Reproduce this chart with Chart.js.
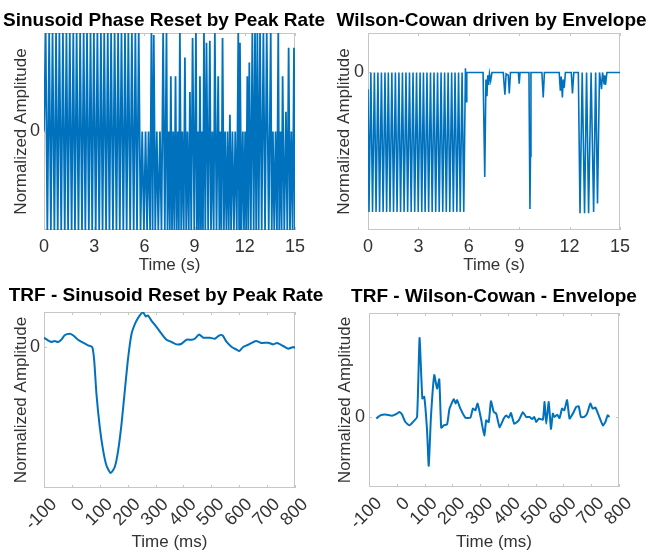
<!DOCTYPE html>
<html lang="en">
  <head>
    <meta charset="UTF-8" />
    <title>Phase Reset vs Wilson-Cowan</title>
    <script src="https://cdn.jsdelivr.net/npm/chart.js@4.4.0/dist/chart.umd.min.js"></script>
    <style>
      body {
        margin: 0;
        width: 656px;
        height: 553px;
        position: relative;
        overflow: hidden;
        background: #ffffff;
      }
      canvas {
        position: absolute;
      }
    </style>
  </head>
  <body>
    <canvas id="sinChart" width="328" height="280" style="left: 0; top: 0"></canvas>
    <canvas id="wcChart" width="323" height="280" style="left: 330px; top: 0"></canvas>
    <canvas id="trfSinChart" width="332" height="273" style="left: 0; top: 280px"></canvas>
    <canvas id="trfWcChart" width="328" height="273" style="left: 330px; top: 280px"></canvas>

    <script>
      // top left: sinusoid reset by peak rate (peaks / troughs, seconds)
      const sinT = [
        0, 0.1, 0.2, 0.31, 0.41, 0.51, 0.62, 0.72, 0.82, 0.92, 1.03, 1.13, 1.24, 1.34, 1.44,
        1.54, 1.65, 1.75, 1.85, 1.95, 2.06, 2.16, 2.27, 2.37, 2.47, 2.57, 2.68, 2.78, 2.88,
        2.98, 3.09, 3.19, 3.3, 3.4, 3.5, 3.6, 3.71, 3.81, 3.91, 4.01, 4.12, 4.22, 4.33, 4.43,
        4.53, 4.63, 4.74, 4.84, 4.94, 5.04, 5.15, 5.25, 5.36, 5.46, 5.56, 5.66, 5.77,
        5.87, 5.97, 6.07, 6.16, 6.25, 6.34, 6.42, 6.49, 6.56, 6.65, 6.74, 6.83, 6.93, 7.02,
        7.12, 7.22, 7.32, 7.38, 7.45, 7.52, 7.58, 7.65, 7.72, 7.79, 7.86, 7.93, 8.0, 8.06,
        8.12, 8.2, 8.27, 8.35, 8.42, 8.5, 8.57, 8.65, 8.72, 8.8, 8.88, 8.98, 9.08, 9.14, 9.2,
        9.26, 9.32, 9.38, 9.45, 9.5, 9.56, 9.64, 9.71, 9.81, 9.91, 9.98, 10.06, 10.14, 10.21,
        10.31, 10.41, 10.48, 10.54, 10.6, 10.67, 10.75, 10.82, 10.9, 10.97, 11.04, 11.11,
        11.18, 11.26, 11.35, 11.43, 11.52, 11.61, 11.66, 11.71, 11.8, 11.88, 11.95, 12.02,
        12.08, 12.15, 12.21, 12.27, 12.36, 12.45, 12.53, 12.61, 12.68, 12.75, 12.83, 12.91,
        13.01, 13.11, 13.21, 13.31, 13.43, 13.55, 13.61, 13.68, 13.76, 13.84, 13.92, 14.0,
        14.06, 14.13, 14.2, 14.26, 14.36, 14.46, 14.54, 14.62, 14.7, 14.78, 14.86, 14.94, 15.0,
      ];
      const sinV = [
        0, 1, -1, 1, -1, 1, -1, 1, -1, 1, -1, 1, -1, 1, -1,
        1, -1, 1, -1, 1, -1, 1, -1, 1, -1, 1, -1, 1, -1,
        1, -1, 1, -1, 1, -1, 1, -1, 1, -1, 1, -1, 1, -1, 1,
        -1, 1, -1, 1, -1, 1, -1, 1, -1, 1, -1, 1, -1,
        0, -1, 0, -1, 0, -1, 1, -1, 0.98, -1, 0, -1, 0, -1,
        1, -1, 1, -1, 0, -1, 0.56, -1, 0, -1, 0.56, -1, 0, -1,
        1, -1, 0, -1, 0.75, -1, 0, -1, 0.4, -1, 0.95, -1, 1, -1, 0,
        -1, 0.56, -1, 0, -1, 1, -1, 0.9, -1, 0.92, -1, 0, -1, 1,
        -1, 0.56, -1, 0, -1, 0.95, -1, 0, -1, 0, -1, 0.17,
        -1, 0, -1, 0, -1, 1, -1, 0.9, -1, 0, -1, 0,
        -1, 0.56, -1, 0.7, -1, 1, -1, 1, -1, 1, -1, 1,
        -1, 1, -1, 1, -1, 1, -1, 0, -1, 0, -1, 1,
        -1, 0, -1, 0.56, -1, 0.2, -1, 0.85, -1, 0, -1, 0.85, -1,
      ];

      // top right: Wilson-Cowan driven by envelope (seconds)
      const wcT = [
        0, 0.06, 0.17, 0.27, 0.38, 0.48, 0.59, 0.69, 0.8, 0.9, 1.01, 1.11, 1.21, 1.31, 1.42,
        1.52, 1.63, 1.73, 1.84, 1.94, 2.05, 2.15, 2.26, 2.36, 2.47, 2.57, 2.68, 2.78, 2.89,
        2.99, 3.1, 3.2, 3.3, 3.4, 3.51, 3.61, 3.72, 3.82, 3.93, 4.03, 4.14, 4.24, 4.35, 4.45,
        4.56, 4.66, 4.77, 4.87, 4.98, 5.08, 5.18, 5.29, 5.39, 5.49, 5.6, 5.7, 5.8, 5.84, 5.88,
        6.85, 6.95, 7.02, 7.08, 7.13, 7.18, 7.23, 7.3, 7.38, 8.05, 8.15, 8.22, 8.35, 8.41,
        8.48, 8.95, 9.0, 9.05, 9.58, 9.64, 9.67, 9.7, 10.35, 10.43, 10.5, 11.38, 11.45, 11.5,
        11.57, 11.62, 11.68, 11.75, 12.1, 12.17, 12.25, 12.52, 12.62, 12.75, 12.89, 13.01,
        13.13, 13.28, 13.43, 13.55, 13.66, 13.78, 13.9, 13.96, 14.05, 14.09, 14.14, 14.22, 15.0,
      ];
      const wcV = [
        -0.12, -1, 0, -1, 0, -1, 0, -1, 0, -1, 0, -1, 0, -1, 0,
        -1, 0, -1, 0, -1, 0, -1, 0, -1, 0, -1, 0, -1, 0,
        -1, 0, -1, 0, -1, 0, -1, 0, -1, 0, -1, 0, -1, 0, -1,
        0, -1, 0, -1, 0, -1, 0, -1, 0, -1, 0, -1, 0.03, -0.21, 0,
        0, -0.75, -0.05, -0.17, -0.02, -0.09, -0.01, -0.06, 0, 0, -0.16, -0.01, -0.02, -0.15,
        0, 0, -0.08, 0, 0, -0.98, -0.6, 0, 0, -0.18, 0, 0, -0.13, -0.03,
        -0.18, -0.05, -0.11, 0, 0, -0.15, 0, 0, -1.01, 0, -1.01, 0,
        -1.01, 0, -1.0, 0, -0.94, 0, -0.12, 0, -0.08, -0.02, -0.09, 0, 0,
      ];

      // bottom left: TRF of the sinusoid reset model (ms)
      const trfSinT = [
        -100, -86, -74, -62, -50, -38, -26, -8, 4, 22, 40, 58, 73, 80, 88, 100, 112, 124, 139,
        154, 166, 178, 190, 202, 214, 229, 243, 255, 265, 273, 285, 303, 321, 339, 357, 375,
        393, 411, 429, 441, 456, 471, 495, 513, 529, 540, 555, 573, 591, 600, 614, 632, 660,
        680, 704, 722, 736, 758, 776, 794, 800,
      ];
      const trfSinV = [
        0.074, 0.053, 0.04, 0.048, 0.04, 0.058, 0.093, 0.106, 0.093, 0.058, 0.034, 0.013, 0,
        -0.106, -0.37, -0.635, -0.82, -0.94, -1.0, -0.95, -0.82, -0.61, -0.34, -0.08, 0.106,
        0.198, 0.25, 0.275, 0.243, 0.25, 0.21, 0.16, 0.106, 0.058, 0.04, 0.021, 0.026, 0.058,
        0.058, 0.066, 0.1, 0.074, 0.074, 0.066, 0.093, 0.093, 0.04, 0, -0.021, -0.032, 0,
        0.018, 0.048, 0.032, 0.034, 0.021, 0.032, 0.008, -0.013, 0, -0.008,
      ];

      // bottom right: TRF of the Wilson-Cowan model (ms)
      const trfWcT = [
        -74, -59, -41, -17, 1, 10, 19, 31, 46, 58, 73, 82, 92, 99, 109, 115, 123, 135, 145,
        153, 160, 169, 181, 190, 205, 212, 217, 229, 247, 265, 274, 283, 291, 303, 315, 322,
        331, 339, 349, 358, 370, 385, 394, 403, 411, 423, 439, 454, 466, 478, 487, 495, 502,
        511, 526, 532, 538, 547, 555, 562, 568, 577, 586, 595, 603, 613, 622, 634, 646, 655,
        663, 675, 685, 697, 705, 715, 727, 742, 751, 759, 766,
      ];
      const trfWcV = [
        -0.02, 0.02, 0.03, 0.017, 0.043, 0.064, 0.03, -0.064, -0.106, -0.064, 0, 1.0, 0.234,
        0.255, -0.17, -0.617, 0, 0.53, 0.36, 0.477, -0.136, -0.106, -0.094, 0.106, 0.225,
        0.17, 0.213, 0.106, -0.009, -0.009, 0.106, 0.085, 0.17, -0.02, -0.234, -0.043,
        -0.064, 0.2, 0.064, 0.043, -0.128, -0.02, 0.02, -0.009, 0.05, -0.085, -0.043, 0.06,
        0, 0, -0.026, 0, -0.064, -0.02, -0.034, 0.19, -0.085, 0.19, -0.15, 0.043, 0, 0.03,
        -0.013, 0.106, 0.085, 0.213, -0.02, 0.043, 0.128, 0.136, 0, 0, 0.043, 0.17, 0.106,
        0.12, 0.02, -0.106, -0.064, 0.02, 0,
      ];

      Chart.defaults.font.family = "Liberation Sans";
      Chart.defaults.color = "#333333";

      // matlab style box with small inward ticks
      const boxPlugin = {
        id: "box",
        beforeDatasetsDraw(chart) {
          const { ctx, chartArea: a, scales } = chart;
          ctx.save();
          ctx.strokeStyle = "#c6c6c6";
          ctx.lineWidth = 1;
          ctx.strokeRect(a.left + 0.5, a.top + 0.5, a.right - a.left - 1, a.bottom - a.top - 1);
          ctx.beginPath();
          scales.x.ticks.forEach((t) => {
            const px = Math.round(scales.x.getPixelForValue(t.value)) + 0.5;
            ctx.moveTo(px, a.bottom);
            ctx.lineTo(px, a.bottom - 3);
            ctx.moveTo(px, a.top);
            ctx.lineTo(px, a.top + 3);
          });
          scales.y.ticks.forEach((t) => {
            const py = Math.round(scales.y.getPixelForValue(t.value)) + 0.5;
            ctx.moveTo(a.left, py);
            ctx.lineTo(a.left + 3, py);
            ctx.moveTo(a.right, py);
            ctx.lineTo(a.right - 3, py);
          });
          ctx.stroke();
          ctx.restore();
        },
      };

      function makePanel(id, p) {
        const points = p.xs.map((x, i) => ({ x: x, y: p.ys[i] }));
        return new Chart(document.getElementById(id), {
          type: "line",
          data: {
            datasets: [
              {
                data: points,
                borderColor: "#0072bd",
                borderWidth: p.lineWidth,
                pointRadius: 0,
                tension: p.tension,
                fill: false,
              },
            ],
          },
          plugins: [boxPlugin],
          options: {
            responsive: false,
            animation: false,
            events: [],
            plugins: {
              legend: { display: false },
              tooltip: { enabled: false },
              title: {
                display: true,
                text: p.title,
                color: "#000000",
                font: { size: 19, weight: "bold" },
                padding: p.titlePad,
              },
            },
            scales: {
              x: {
                type: "linear",
                min: p.xMin,
                max: p.xMax,
                grid: { display: false, drawTicks: false },
                border: { display: false },
                afterFit: (s) => {
                  s.height = p.xHeight;
                },
                ticks: {
                  stepSize: p.xStep,
                  autoSkip: false,
                  minRotation: p.rot,
                  maxRotation: p.rot,
                  labelOffset: p.rot ? 10 : 0,
                  padding: 6,
                  font: { size: 18 },
                },
                title: {
                  display: true,
                  text: p.xLabel,
                  font: { size: 17 },
                  padding: { top: 0, bottom: p.xTitlePad },
                },
              },
              y: {
                min: p.yMin,
                max: p.yMax,
                grid: { display: false, drawTicks: false },
                border: { display: false },
                afterFit: (s) => {
                  s.width = p.yWidth;
                },
                afterBuildTicks: (s) => {
                  s.ticks = [{ value: 0 }];
                },
                ticks: { padding: 4, font: { size: 18 } },
                title: {
                  display: true,
                  text: "Normalized Amplitude",
                  font: { size: 17 },
                  padding: { top: p.yTitlePad, bottom: 0 },
                },
              },
              // empty right-hand margin, keeps the title centred like the original
              margin: {
                type: "linear",
                position: "right",
                grid: { display: false, drawTicks: false },
                border: { display: false },
                ticks: { display: false },
                afterFit: (s) => {
                  s.width = p.rightWidth;
                },
              },
            },
          },
        });
      }

      makePanel("sinChart", {
        xs: sinT, ys: sinV, lineWidth: 1.8, tension: 0,
        title: "Sinusoid Phase Reset by Peak Rate", titlePad: { top: 9.1, bottom: 1.1 },
        xMin: 0, xMax: 15, xStep: 3, rot: 0, xLabel: "Time (s)", xHeight: 50, xTitlePad: 4.8,
        yMin: -1, yMax: 1, yWidth: 44, yTitlePad: 11.3, rightWidth: 33,
      });

      makePanel("wcChart", {
        xs: wcT, ys: wcV, lineWidth: 1.6, tension: 0,
        title: "Wilson-Cowan driven by Envelope", titlePad: { top: 9.1, bottom: 1.1 },
        xMin: 0, xMax: 15, xStep: 3, rot: 0, xLabel: "Time (s)", xHeight: 50, xTitlePad: 4.8,
        yMin: -1.13, yMax: 0.283, yWidth: 38, yTitlePad: 4.3, rightWidth: 33,
      });

      makePanel("trfSinChart", {
        xs: trfSinT, ys: trfSinV, lineWidth: 2, tension: 0.2,
        title: "TRF - Sinusoid Reset by Peak Rate", titlePad: { top: 4.6, bottom: 4.6 },
        xMin: -100, xMax: 800, xStep: 100, rot: 45, xLabel: "Time (ms)", xHeight: 65, xTitlePad: 0,
        yMin: -1.119, yMax: 0.278, yWidth: 44, yTitlePad: 10.8, rightWidth: 37,
      });

      makePanel("trfWcChart", {
        xs: trfWcT, ys: trfWcV, lineWidth: 2, tension: 0.15,
        title: "TRF - Wilson-Cowan - Envelope", titlePad: { top: 5.1, bottom: 5.1 },
        xMin: -100, xMax: 800, xStep: 100, rot: 45, xLabel: "Time (ms)", xHeight: 66, xTitlePad: 0,
        yMin: -0.886, yMax: 1.316, yWidth: 39, yTitlePad: 4.8, rightWidth: 39,
      });
    </script>
  </body>
</html>
